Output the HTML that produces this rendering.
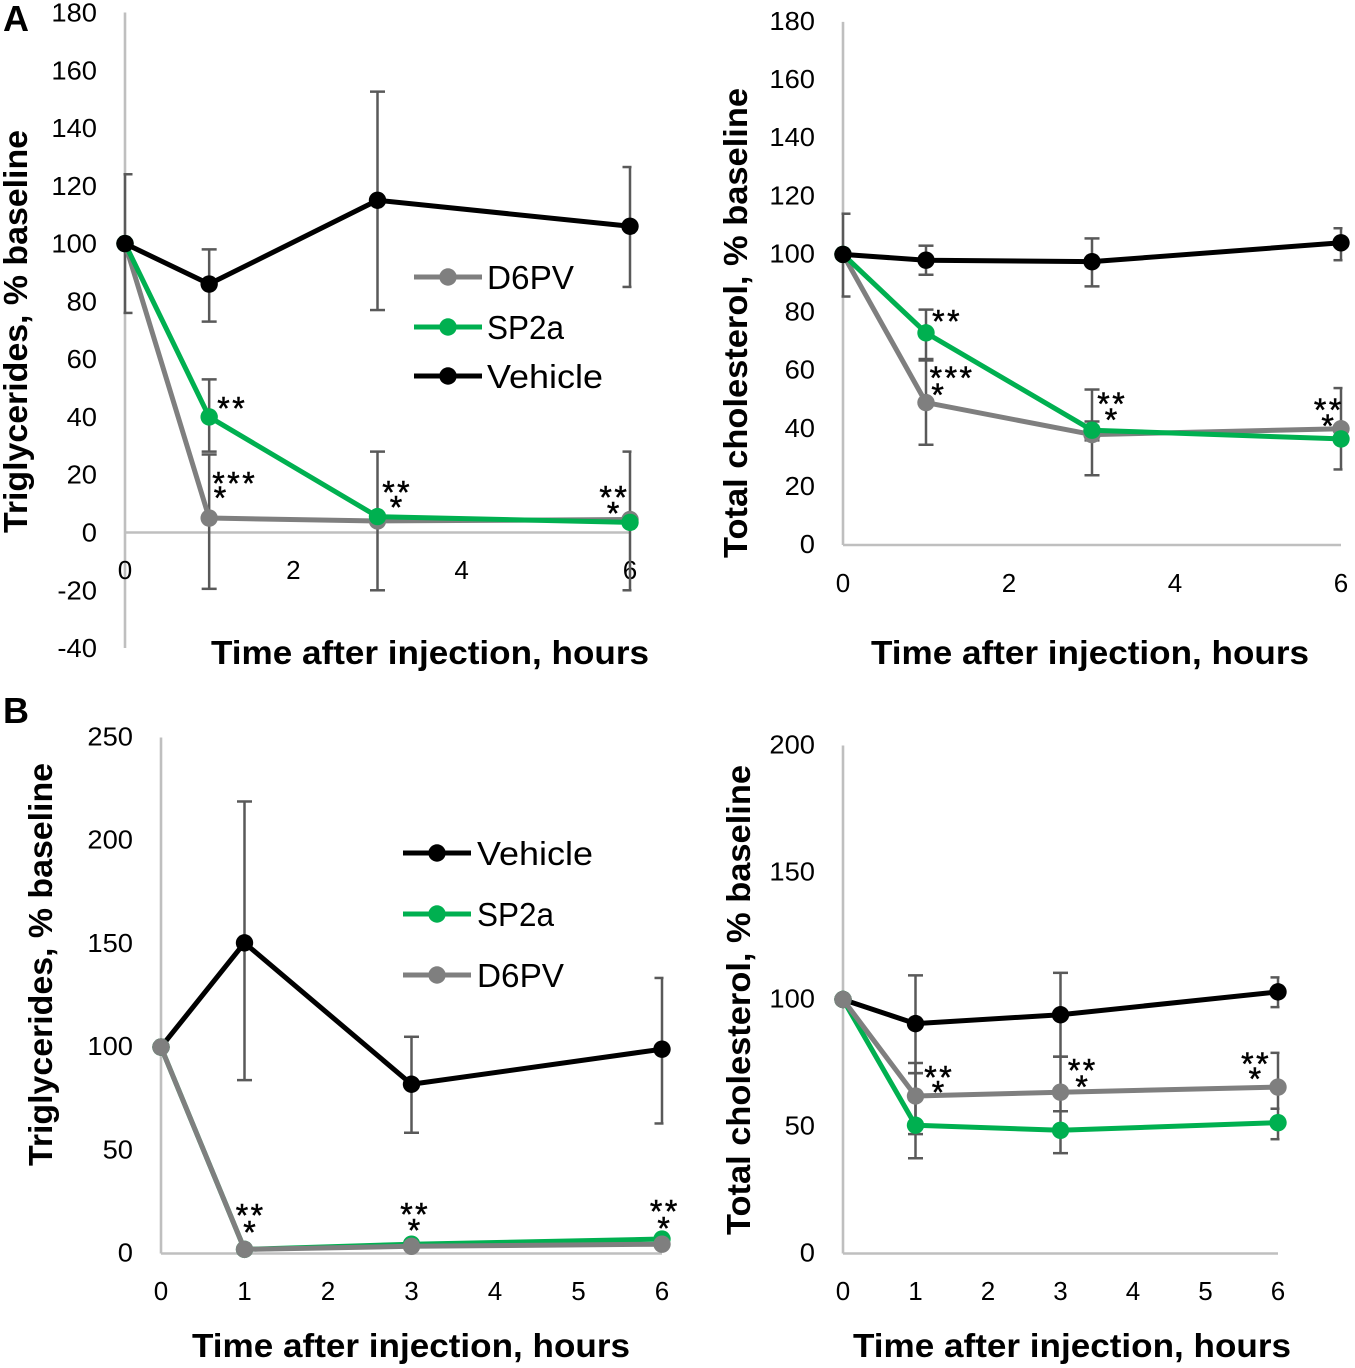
<!DOCTYPE html>
<html lang="en">
<head>
<meta charset="utf-8">
<title>Triglycerides and total cholesterol after injection</title>
<style>
html,body{margin:0;padding:0;background:#fff;}
svg{display:block;font-family:"Liberation Sans",sans-serif;}
</style>
</head>
<body>
<svg id="figure" width="1355" height="1368" viewBox="0 0 1355 1368" xmlns="http://www.w3.org/2000/svg"></svg>
<script>
const hours = [0, 1, 3, 6];

// Panel A, triglycerides
const aTgVehicle = [100, 86, 115, 106];
const aTgVehicleLow = [76, 73, 77, 85];
const aTgVehicleHigh = [124, 98, 152.6, 126.5];
const aTgD6pv = [100, 5, 4, 4.5];
const aTgD6pvLow = [100, -19.5, -20, -20];
const aTgD6pvHigh = [100, 27, 28, 28];
const aTgSp2a = [100, 40, 5.5, 3.5];
const aTgSp2aLow = [100, 28, 5.5, 3.5];
const aTgSp2aHigh = [100, 53, 5.5, 3.5];
const aTgTicks = [-40, -20, 0, 20, 40, 60, 80, 100, 120, 140, 160, 180];
const aTgHourTicks = [0, 2, 4, 6];
const aTgSigHours = [1.25, 1.28, 1.12, 3.21, 3.21, 5.79, 5.79];
const aTgSigValues = [45, 19, 14, 16, 10.7, 14.2, 8.7];
const aTgSigLabels = ["**", "***", "*", "**", "*", "**", "*"];

// Panel A, total cholesterol
const aTcVehicle = [100, 98, 97.5, 104];
const aTcVehicleLow = [85.5, 93, 89, 98];
const aTcVehicleHigh = [114, 103, 105.5, 109];
const aTcD6pv = [100, 49, 38, 40];
const aTcD6pvLow = [100, 34.5, 24, 40];
const aTcD6pvHigh = [100, 64, 42.5, 54];
const aTcSp2a = [100, 73, 39.5, 36.5];
const aTcSp2aLow = [100, 63.5, 36, 26];
const aTcSp2aHigh = [100, 81, 53.5, 36.5];
const aTcTicks = [0, 20, 40, 60, 80, 100, 120, 140, 160, 180];
const aTcHourTicks = [0, 2, 4, 6];
const aTcSigHours = [1.23, 1.29, 1.13, 3.22, 3.22, 5.83, 5.83];
const aTcSigValues = [79, 59.5, 53.7, 50.6, 45, 48.5, 43];
const aTcSigLabels = ["**", "***", "*", "**", "*", "**", "*"];

// Panel B, triglycerides
const bTgVehicle = [100, 150.5, 82, 99];
const bTgVehicleLow = [100, 84, 58.5, 63];
const bTgVehicleHigh = [100, 219, 105, 133.5];
const bTgSp2a = [100, 2, 4.5, 7];
const bTgD6pv = [100, 2, 3.5, 4.5];
const bTgTicks = [0, 50, 100, 150, 200, 250];
const bTgHourTicks = [0, 1, 2, 3, 4, 5, 6];
const bTgSigHours = [1.05, 1.05, 3.02, 3.02, 6.01, 6.01];
const bTgSigValues = [21.3, 13, 21.8, 14, 23.3, 15];
const bTgSigLabels = ["**", "*", "**", "*", "**", "*"];

// Panel B, total cholesterol
const bTcVehicle = [100, 90.5, 94, 103];
const bTcVehicleLow = [100, 71, 77.5, 97];
const bTcVehicleHigh = [100, 109.5, 110.5, 108.7];
const bTcSp2a = [100, 50.5, 48.5, 51.5];
const bTcSp2aLow = [100, 37.5, 39.5, 45];
const bTcSp2aHigh = [100, 71, 56, 57];
const bTcD6pv = [100, 62, 63.5, 65.5];
const bTcD6pvLow = [100, 47, 56, 57];
const bTcD6pvHigh = [100, 75, 77.5, 79];
const bTcTicks = [0, 50, 100, 150, 200];
const bTcHourTicks = [0, 1, 2, 3, 4, 5, 6];
const bTcSigHours = [1.3, 1.3, 3.28, 3.28, 5.67, 5.67];
const bTcSigValues = [71.7, 65.7, 74.4, 68, 77, 71];
const bTcSigLabels = ["**", "*", "**", "*", "**", "*"];

const NS = "http://www.w3.org/2000/svg";
const figure = document.getElementById("figure");
const COLORS = { Vehicle: "#000000", SP2a: "#00B050", D6PV: "#7F7F7F" };

function node(parent, tag, props) {
  const el = document.createElementNS(NS, tag);
  for (const k in props) el.setAttribute(k, props[k]);
  parent.appendChild(el);
  return el;
}

function label(parent, x, y, str, size, props) {
  const el = node(parent, "text", Object.assign({ x: x, y: y, "font-size": size, fill: "#000" }, props || {}));
  el.textContent = str;
  return el;
}

function drawChart(cfg, id) {
  const g = node(figure, "g", {});
  
  

  const xScale = h => cfg.x0 + (cfg.x6 - cfg.x0) * h / 6;
  const yScale = v => cfg.yZero - cfg.pxPerUnit * v;

  const yAxis = node(g, "line", { x1: cfg.x0, x2: cfg.x0, y1: yScale(cfg.ticks[cfg.ticks.length - 1]), y2: yScale(cfg.ticks[0]), stroke: "#BFBFBF", "stroke-width": 2.6 });
  
  

  const xAxis = node(g, "line", { x1: cfg.x0, x2: cfg.x6, y1: yScale(0), y2: yScale(0), stroke: "#BFBFBF", "stroke-width": 2.6 });
  
  

  cfg.ticks.forEach(t => {
    const str = String(t);
    const tl = label(g, cfg.yLabelRight, yScale(t) + cfg.yLabelShift, str, 26, { "text-anchor": "end", textLength: str.length * 15.2 + (t < 0 ? -6 : 0), lengthAdjust: "spacingAndGlyphs" });
    
    
  });

  cfg.hourTicks.forEach(t => {
    const tl = label(g, xScale(t), cfg.xLabelY, String(t), 26, { "text-anchor": "middle" });
    
    
  });

  const clip = node(g, "clipPath", { id: "clip-" + id });
  node(clip, "rect", { x: cfg.x0 - 1.5, y: 0, width: cfg.x6 - cfg.x0 + 3, height: 1368 });

  cfg.series.forEach(s => {
    if (!s.low) return;
    const eb = node(g, "g", { "clip-path": "url(#clip-" + id + ")", stroke: "#595959", "stroke-width": 2.5, fill: "none" });
    
    
    hours.forEach((h, i) => {
      const px = xScale(h);
      const lo = yScale(s.low[i]);
      const hi = yScale(s.high[i]);
      if (s.low[i] === s.high[i]) return;
      node(eb, "line", { x1: px, x2: px, y1: lo, y2: hi });
      if (s.low[i] !== s.values[i]) node(eb, "line", { x1: px - 7.5, x2: px + 7.5, y1: lo, y2: lo });
      if (s.high[i] !== s.values[i]) node(eb, "line", { x1: px - 7.5, x2: px + 7.5, y1: hi, y2: hi });
    });
  });

  cfg.series.forEach(s => {
    const sg = node(g, "g", {});
    
    
    const pts = hours.map((h, i) => xScale(h) + "," + yScale(s.values[i])).join(" ");
    const pl = node(sg, "polyline", { points: pts, fill: "none", stroke: COLORS[s.name], "stroke-width": 5, "stroke-linejoin": "round" });
    
    
    hours.forEach((h, i) => {
      const c = node(sg, "circle", { cx: xScale(h), cy: yScale(s.values[i]), r: 8.7, fill: COLORS[s.name] });
      
      
    });
  });

  cfg.sigLabels.forEach((str, i) => {
    const st = label(g, xScale(cfg.sigHours[i]) + 2, yScale(cfg.sigValues[i]) + 17, str, 32, { "text-anchor": "middle", "letter-spacing": 2.5, stroke: "#000", "stroke-width": 0.5 });
    
    
  });

  const xt = label(g, cfg.xTitleX, cfg.xTitleY, "Time after injection, hours", 33, { "font-weight": "bold", textLength: 438, lengthAdjust: "spacingAndGlyphs" });
  
  

  const yt = label(g, 0, 0, cfg.yTitle, 33, { "font-weight": "bold", textLength: cfg.yTitleLen, lengthAdjust: "spacingAndGlyphs", transform: "translate(" + cfg.yTitleX + "," + cfg.yTitleBottom + ") rotate(-90)" });
  
  
}

function drawLegend(names, lineX1, textX, rowYs) {
  const g = node(figure, "g", {});
  
  
  const widths = { Vehicle: 116, SP2a: 77, D6PV: 87 };
  names.forEach((n, i) => {
    const e = node(g, "g", {});
    
    
    node(e, "line", { x1: lineX1, x2: lineX1 + 68, y1: rowYs[i], y2: rowYs[i], stroke: COLORS[n], "stroke-width": 5 });
    node(e, "circle", { cx: lineX1 + 34, cy: rowYs[i], r: 8.7, fill: COLORS[n] });
    label(e, textX, rowYs[i] + 12, n, 33, { textLength: widths[n], lengthAdjust: "spacingAndGlyphs" });
  });
}

drawChart({
  name: "panel-a-triglycerides-chart", x0: 125, x6: 630, yZero: 532.5, pxPerUnit: 2.889,
  ticks: aTgTicks, hourTicks: aTgHourTicks, yLabelRight: 97, yLabelShift: 9, xLabelY: 579,
  xTitleX: 211, xTitleY: 664, yTitle: "Triglycerides, % baseline", yTitleX: 27, yTitleBottom: 533, yTitleLen: 403,
  sigHours: aTgSigHours, sigValues: aTgSigValues, sigLabels: aTgSigLabels,
  series: [
    { name: "D6PV", values: aTgD6pv, low: aTgD6pvLow, high: aTgD6pvHigh },
    { name: "SP2a", values: aTgSp2a, low: aTgSp2aLow, high: aTgSp2aHigh },
    { name: "Vehicle", values: aTgVehicle, low: aTgVehicleLow, high: aTgVehicleHigh }
  ]
}, "a1");

drawChart({
  name: "panel-a-cholesterol-chart", x0: 843, x6: 1341, yZero: 545, pxPerUnit: 2.906,
  ticks: aTcTicks, hourTicks: aTcHourTicks, yLabelRight: 815, yLabelShift: 8, xLabelY: 592,
  xTitleX: 871, xTitleY: 664, yTitle: "Total cholesterol, % baseline", yTitleX: 747, yTitleBottom: 558, yTitleLen: 470,
  sigHours: aTcSigHours, sigValues: aTcSigValues, sigLabels: aTcSigLabels,
  series: [
    { name: "D6PV", values: aTcD6pv, low: aTcD6pvLow, high: aTcD6pvHigh },
    { name: "SP2a", values: aTcSp2a, low: aTcSp2aLow, high: aTcSp2aHigh },
    { name: "Vehicle", values: aTcVehicle, low: aTcVehicleLow, high: aTcVehicleHigh }
  ]
}, "a2");

drawChart({
  name: "panel-b-triglycerides-chart", x0: 161, x6: 662, yZero: 1253.5, pxPerUnit: 2.064,
  ticks: bTgTicks, hourTicks: bTgHourTicks, yLabelRight: 133, yLabelShift: 8, xLabelY: 1300,
  xTitleX: 192, xTitleY: 1357, yTitle: "Triglycerides, % baseline", yTitleX: 52, yTitleBottom: 1166, yTitleLen: 403,
  sigHours: bTgSigHours, sigValues: bTgSigValues, sigLabels: bTgSigLabels,
  series: [
    { name: "Vehicle", values: bTgVehicle, low: bTgVehicleLow, high: bTgVehicleHigh },
    { name: "SP2a", values: bTgSp2a },
    { name: "D6PV", values: bTgD6pv }
  ]
}, "b1");

drawChart({
  name: "panel-b-cholesterol-chart", x0: 843, x6: 1278, yZero: 1253.5, pxPerUnit: 2.54,
  ticks: bTcTicks, hourTicks: bTcHourTicks, yLabelRight: 815, yLabelShift: 8, xLabelY: 1300,
  xTitleX: 853, xTitleY: 1357, yTitle: "Total cholesterol, % baseline", yTitleX: 750, yTitleBottom: 1235, yTitleLen: 470,
  sigHours: bTcSigHours, sigValues: bTcSigValues, sigLabels: bTcSigLabels,
  series: [
    { name: "Vehicle", values: bTcVehicle, low: bTcVehicleLow, high: bTcVehicleHigh },
    { name: "SP2a", values: bTcSp2a, low: bTcSp2aLow, high: bTcSp2aHigh },
    { name: "D6PV", values: bTcD6pv, low: bTcD6pvLow, high: bTcD6pvHigh }
  ]
}, "b2");

drawLegend(["D6PV", "SP2a", "Vehicle"], 414, 487, [277, 327, 376]);
drawLegend(["Vehicle", "SP2a", "D6PV"], 403, 477, [853, 914, 975]);

const letterA = label(figure, 3, 31, "A", 36, { "font-weight": "bold" });


const letterB = label(figure, 3, 723, "B", 36, { "font-weight": "bold" });


</script>
</body>
</html>
